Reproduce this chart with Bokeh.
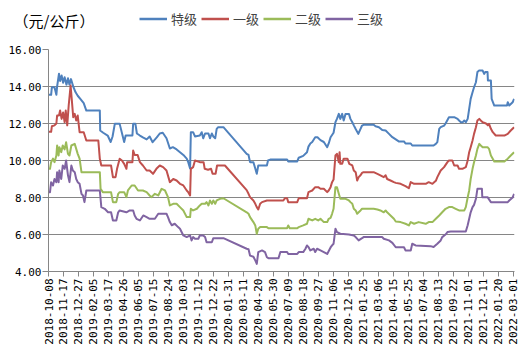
import math
import pandas as pd
from bokeh.plotting import figure
from bokeh.layouts import column
from bokeh.models import (Range1d, FixedTicker, NumeralTickFormatter, DatetimeTickFormatter,
                          Legend, LegendItem, ColumnDataSource, Spacer)
from bokeh.embed import file_html
from bokeh.resources import INLINE

unit_label = "（元/公斤）"
series_names = ["特级", "一级", "二级", "三级"]
series_colors = ["#4F81BD", "#C0504D", "#9BBB59", "#8064A2"]
y_ticks = [4, 6, 8, 10, 12, 14, 16]
x_tick_labels = [
    "2018-10-08", "2018-11-17", "2018-12-27", "2019-02-05", "2019-03-17", "2019-04-26",
    "2019-06-05", "2019-07-15", "2019-08-24", "2019-10-03", "2019-11-12", "2019-12-22",
    "2020-01-31", "2020-03-11", "2020-04-20", "2020-05-30", "2020-07-09", "2020-08-18",
    "2020-09-27", "2020-11-06", "2020-12-16", "2021-01-25", "2021-03-06", "2021-04-15",
    "2021-05-25", "2021-07-04", "2021-08-13", "2021-09-22", "2021-11-01", "2021-12-11",
    "2022-01-20", "2022-03-01",
]

te_ji = [
    ("2018-10-08", 13.55), ("2018-10-15", 13.55), ("2018-10-17", 13.96), ("2018-10-24", 13.96),
    ("2018-10-29", 13.55), ("2018-10-31", 14.0), ("2018-11-05", 14.69), ("2018-11-08", 14.3),
    ("2018-11-12", 14.6), ("2018-11-16", 14.2), ("2018-11-20", 14.5), ("2018-11-25", 14.1),
    ("2018-11-29", 14.45), ("2018-12-03", 14.1), ("2018-12-07", 14.4), ("2018-12-13", 14.0),
    ("2018-12-19", 13.7), ("2018-12-25", 13.5), ("2019-01-02", 13.3), ("2019-01-10", 13.1),
    ("2019-01-17", 12.7), ("2019-02-22", 12.7), ("2019-02-23", 11.62), ("2019-03-03", 11.5),
    ("2019-03-15", 11.35), ("2019-03-23", 11.0), ("2019-03-28", 11.3), ("2019-04-03", 11.98),
    ("2019-04-16", 11.98), ("2019-04-28", 11.0), ("2019-05-02", 11.35), ("2019-05-20", 11.35),
    ("2019-05-22", 11.98), ("2019-05-28", 11.98), ("2019-06-01", 11.46), ("2019-06-09", 11.35),
    ("2019-06-17", 11.25), ("2019-06-27", 11.14), ("2019-07-05", 11.3), ("2019-07-13", 10.99),
    ("2019-07-24", 11.25), ("2019-08-01", 11.46), ("2019-08-09", 11.5), ("2019-08-19", 11.2),
    ("2019-08-28", 10.65), ("2019-09-05", 10.72), ("2019-09-15", 10.6), ("2019-09-24", 10.45),
    ("2019-10-03", 10.3), ("2019-10-12", 10.1), ("2019-10-16", 9.91), ("2019-10-21", 9.57),
    ("2019-10-23", 11.53), ("2019-10-29", 11.53), ("2019-11-03", 11.3), ("2019-11-16", 11.35),
    ("2019-11-21", 11.53), ("2019-11-25", 11.2), ("2019-11-30", 11.46), ("2019-12-09", 11.46),
    ("2019-12-13", 11.2), ("2019-12-18", 11.46), ("2019-12-22", 11.3), ("2019-12-27", 11.2),
    ("2019-12-31", 11.71), ("2020-01-04", 11.8), ("2020-01-18", 11.8), ("2020-01-22", 11.71),
    ("2020-03-20", 10.36), ("2020-03-25", 10.3), ("2020-03-29", 9.91), ("2020-04-07", 9.91),
    ("2020-04-12", 9.57), ("2020-04-16", 9.28), ("2020-04-20", 9.73), ("2020-05-13", 9.73),
    ("2020-05-16", 10.0), ("2020-05-22", 10.05), ("2020-07-06", 10.05), ("2020-07-09", 9.95),
    ("2020-08-02", 9.95), ("2020-08-06", 10.15), ("2020-08-18", 10.25), ("2020-08-28", 10.45),
    ("2020-09-01", 10.75), ("2020-09-06", 10.92), ("2020-09-11", 11.0), ("2020-09-19", 11.26),
    ("2020-09-25", 11.26), ("2020-10-03", 11.1), ("2020-10-12", 11.0), ("2020-10-21", 10.72),
    ("2020-10-25", 10.92), ("2020-10-30", 11.26), ("2020-11-07", 11.5), ("2020-11-12", 12.07),
    ("2020-11-16", 12.25), ("2020-11-21", 12.52), ("2020-11-25", 12.25), ("2020-11-30", 12.52),
    ("2020-12-04", 12.16), ("2020-12-09", 12.52), ("2020-12-18", 12.52), ("2020-12-22", 12.25),
    ("2020-12-27", 12.07), ("2020-12-31", 11.9), ("2021-01-05", 11.7), ("2021-01-12", 11.44),
    ("2021-01-18", 11.71), ("2021-01-22", 11.89), ("2021-01-26", 11.93), ("2021-02-22", 11.93),
    ("2021-02-27", 11.85), ("2021-03-08", 11.8), ("2021-03-17", 11.65), ("2021-03-26", 11.62),
    ("2021-04-04", 11.44), ("2021-04-13", 11.26), ("2021-04-22", 11.14), ("2021-04-30", 11.03),
    ("2021-05-14", 11.03), ("2021-05-18", 10.92), ("2021-06-01", 10.92), ("2021-06-05", 10.81),
    ("2021-08-01", 10.81), ("2021-08-07", 10.9), ("2021-08-11", 10.99), ("2021-08-16", 11.71),
    ("2021-08-20", 11.8), ("2021-08-29", 11.89), ("2021-09-02", 12.0), ("2021-09-11", 12.34),
    ("2021-09-25", 12.34), ("2021-10-04", 12.25), ("2021-10-08", 12.16), ("2021-10-13", 12.07),
    ("2021-10-18", 12.07), ("2021-10-22", 12.16), ("2021-10-26", 12.07), ("2021-10-31", 12.25),
    ("2021-11-04", 12.79), ("2021-11-08", 13.33), ("2021-11-13", 13.69), ("2021-11-17", 13.96),
    ("2021-11-22", 14.23), ("2021-11-26", 14.78), ("2021-11-30", 14.86), ("2021-12-10", 14.86),
    ("2021-12-14", 14.68), ("2021-12-17", 14.78), ("2021-12-23", 14.78), ("2021-12-24", 14.32),
    ("2022-01-01", 14.32), ("2022-01-03", 13.33), ("2022-01-10", 12.97), ("2022-02-13", 12.97),
    ("2022-02-15", 13.15), ("2022-02-19", 12.97), ("2022-02-28", 13.15), ("2022-03-04", 13.33),
]

yi_ji = [
    ("2018-10-08", 11.55), ("2018-10-15", 11.55), ("2018-10-17", 11.85), ("2018-10-24", 11.9),
    ("2018-10-29", 12.0), ("2018-10-31", 12.43), ("2018-11-05", 12.43), ("2018-11-08", 12.7),
    ("2018-11-12", 12.25), ("2018-11-16", 12.6), ("2018-11-20", 12.07), ("2018-11-23", 12.7),
    ("2018-11-27", 11.9), ("2018-12-01", 13.0), ("2018-12-03", 13.42), ("2018-12-06", 14.05),
    ("2018-12-09", 13.33), ("2018-12-13", 12.34), ("2018-12-17", 12.52), ("2018-12-21", 12.16),
    ("2018-12-25", 12.43), ("2018-12-30", 11.53), ("2019-01-10", 11.53), ("2019-01-17", 11.08),
    ("2019-02-18", 11.08), ("2019-02-22", 10.09), ("2019-02-26", 9.73), ("2019-03-24", 9.73),
    ("2019-03-29", 9.1), ("2019-04-05", 9.1), ("2019-04-09", 9.55), ("2019-04-16", 10.09),
    ("2019-04-22", 10.0), ("2019-04-28", 9.82), ("2019-05-04", 9.55), ("2019-05-06", 9.91),
    ("2019-05-20", 9.91), ("2019-05-22", 10.54), ("2019-05-26", 10.3), ("2019-06-03", 10.3),
    ("2019-06-09", 9.91), ("2019-06-17", 9.73), ("2019-06-27", 9.46), ("2019-07-05", 9.46),
    ("2019-07-14", 9.28), ("2019-07-23", 9.55), ("2019-08-01", 9.73), ("2019-08-10", 9.64),
    ("2019-08-19", 9.46), ("2019-08-28", 8.83), ("2019-09-06", 9.0), ("2019-09-15", 8.92),
    ("2019-09-24", 8.74), ("2019-10-03", 8.65), ("2019-10-12", 8.38), ("2019-10-16", 8.29),
    ("2019-10-21", 8.11), ("2019-10-23", 9.55), ("2019-10-29", 9.64), ("2019-11-03", 10.0),
    ("2019-11-16", 9.91), ("2019-11-26", 9.91), ("2019-11-29", 9.55), ("2019-12-08", 9.5),
    ("2019-12-16", 9.55), ("2019-12-20", 9.28), ("2019-12-28", 9.28), ("2020-01-01", 9.73),
    ("2020-01-22", 9.73), ("2020-03-20", 8.4), ("2020-03-25", 8.2), ("2020-03-29", 8.02),
    ("2020-04-07", 7.84), ("2020-04-12", 7.66), ("2020-04-16", 7.48), ("2020-04-20", 7.35),
    ("2020-04-25", 7.66), ("2020-04-30", 7.75), ("2020-05-13", 7.84), ("2020-06-26", 7.84),
    ("2020-06-30", 7.96), ("2020-07-06", 7.96), ("2020-07-09", 7.75), ("2020-08-02", 7.75),
    ("2020-08-06", 7.96), ("2020-08-28", 7.96), ("2020-09-01", 8.29), ("2020-09-11", 8.38),
    ("2020-09-19", 8.56), ("2020-09-27", 8.56), ("2020-10-03", 8.47), ("2020-10-12", 8.47),
    ("2020-10-21", 8.29), ("2020-10-25", 8.38), ("2020-10-30", 8.56), ("2020-11-03", 8.83),
    ("2020-11-07", 8.97), ("2020-11-12", 10.27), ("2020-11-16", 10.36), ("2020-11-21", 9.9),
    ("2020-11-23", 10.45), ("2020-11-25", 9.82), ("2020-11-30", 9.82), ("2020-12-04", 10.1),
    ("2020-12-14", 10.1), ("2020-12-19", 9.82), ("2020-12-27", 9.73), ("2020-12-31", 9.46),
    ("2021-01-05", 9.37), ("2021-01-09", 8.92), ("2021-01-13", 9.1), ("2021-01-18", 9.2),
    ("2021-01-22", 9.33), ("2021-01-26", 9.37), ("2021-02-22", 9.37), ("2021-03-04", 9.28),
    ("2021-03-12", 9.2), ("2021-03-21", 9.1), ("2021-03-26", 9.2), ("2021-03-30", 9.0),
    ("2021-04-08", 8.92), ("2021-04-17", 8.83), ("2021-04-22", 8.79), ("2021-05-05", 8.74),
    ("2021-05-18", 8.61), ("2021-05-27", 8.5), ("2021-06-01", 8.83), ("2021-06-10", 8.74),
    ("2021-07-11", 8.74), ("2021-07-19", 8.83), ("2021-07-29", 8.74), ("2021-08-07", 8.9),
    ("2021-08-11", 9.1), ("2021-08-20", 9.46), ("2021-08-29", 9.64), ("2021-09-07", 9.91),
    ("2021-09-11", 10.0), ("2021-09-20", 10.0), ("2021-09-25", 9.73), ("2021-10-04", 9.73),
    ("2021-10-08", 9.55), ("2021-10-17", 9.55), ("2021-10-26", 9.64), ("2021-10-31", 10.0),
    ("2021-11-04", 10.45), ("2021-11-08", 10.72), ("2021-11-13", 11.08), ("2021-11-17", 11.44),
    ("2021-11-22", 11.8), ("2021-11-26", 12.16), ("2021-12-01", 12.25), ("2021-12-05", 12.16),
    ("2021-12-10", 12.07), ("2021-12-19", 12.0), ("2021-12-24", 11.9), ("2021-12-27", 11.98),
    ("2022-01-01", 11.71), ("2022-01-06", 11.53), ("2022-01-14", 11.35), ("2022-02-06", 11.35),
    ("2022-02-15", 11.44), ("2022-02-23", 11.62), ("2022-03-04", 11.8),
]

er_ji = [
    ("2018-10-08", 9.55), ("2018-10-12", 9.55), ("2018-10-15", 9.91), ("2018-10-20", 10.1),
    ("2018-10-24", 9.91), ("2018-10-29", 10.27), ("2018-10-31", 10.81), ("2018-11-04", 10.27),
    ("2018-11-06", 10.72), ("2018-11-11", 10.45), ("2018-11-15", 10.81), ("2018-11-20", 10.6),
    ("2018-11-24", 10.99), ("2018-11-29", 10.36), ("2018-12-03", 10.27), ("2018-12-08", 10.81),
    ("2018-12-17", 10.9), ("2018-12-21", 10.63), ("2018-12-25", 10.36), ("2018-12-30", 10.1),
    ("2019-01-04", 9.37), ("2019-02-22", 9.37), ("2019-02-24", 8.47), ("2019-03-02", 8.29),
    ("2019-03-24", 8.29), ("2019-03-29", 7.75), ("2019-04-07", 7.75), ("2019-04-12", 8.2),
    ("2019-04-16", 8.29), ("2019-04-28", 8.29), ("2019-05-04", 8.02), ("2019-05-08", 8.38),
    ("2019-05-18", 8.65), ("2019-05-26", 8.65), ("2019-06-04", 8.38), ("2019-06-17", 8.38),
    ("2019-06-27", 8.29), ("2019-07-05", 8.11), ("2019-07-10", 8.02), ("2019-07-19", 8.2),
    ("2019-07-28", 8.11), ("2019-08-06", 8.47), ("2019-08-15", 8.38), ("2019-08-23", 8.02),
    ("2019-08-28", 7.57), ("2019-09-06", 7.66), ("2019-09-15", 7.66), ("2019-09-24", 7.48),
    ("2019-10-03", 7.3), ("2019-10-12", 6.94), ("2019-10-21", 6.94), ("2019-10-23", 7.39),
    ("2019-10-29", 7.3), ("2019-11-08", 7.39), ("2019-11-16", 7.57), ("2019-11-21", 7.66),
    ("2019-11-30", 7.66), ("2019-12-04", 7.75), ("2019-12-09", 7.57), ("2019-12-13", 7.84),
    ("2019-12-18", 7.66), ("2019-12-22", 7.84), ("2019-12-27", 7.66), ("2019-12-31", 7.84),
    ("2020-01-09", 7.93), ("2020-01-18", 7.96), ("2020-03-20", 7.2), ("2020-03-25", 7.12),
    ("2020-03-29", 6.94), ("2020-04-07", 6.67), ("2020-04-12", 6.49), ("2020-04-16", 6.04),
    ("2020-04-20", 6.31), ("2020-04-25", 6.4), ("2020-05-13", 6.4), ("2020-05-17", 6.34),
    ("2020-07-06", 6.34), ("2020-07-09", 6.49), ("2020-07-13", 6.34), ("2020-08-02", 6.34),
    ("2020-08-06", 6.4), ("2020-08-18", 6.49), ("2020-08-28", 6.58), ("2020-09-01", 6.85),
    ("2020-09-11", 6.76), ("2020-09-19", 6.85), ("2020-09-27", 6.76), ("2020-10-03", 6.85),
    ("2020-10-12", 6.67), ("2020-10-21", 6.67), ("2020-10-25", 6.85), ("2020-10-30", 6.9),
    ("2020-11-03", 7.12), ("2020-11-07", 7.39), ("2020-11-12", 8.56), ("2020-11-16", 8.56),
    ("2020-11-21", 8.2), ("2020-11-25", 7.93), ("2020-12-09", 7.93), ("2020-12-18", 7.84),
    ("2020-12-22", 7.75), ("2020-12-27", 7.66), ("2020-12-31", 7.39), ("2021-01-05", 7.3),
    ("2021-01-09", 7.12), ("2021-01-13", 7.2), ("2021-01-18", 7.3), ("2021-01-22", 7.39),
    ("2021-02-22", 7.39), ("2021-03-04", 7.35), ("2021-03-12", 7.3), ("2021-03-21", 7.2),
    ("2021-03-26", 7.3), ("2021-03-30", 7.2), ("2021-04-08", 7.03), ("2021-04-17", 6.85),
    ("2021-04-22", 6.7), ("2021-05-05", 6.67), ("2021-05-18", 6.58), ("2021-05-27", 6.49),
    ("2021-06-01", 6.67), ("2021-06-10", 6.58), ("2021-06-22", 6.67), ("2021-07-11", 6.58),
    ("2021-07-19", 6.67), ("2021-07-29", 6.67), ("2021-08-07", 6.85), ("2021-08-16", 7.03),
    ("2021-08-24", 7.2), ("2021-09-02", 7.39), ("2021-09-11", 7.48), ("2021-09-20", 7.48),
    ("2021-09-29", 7.39), ("2021-10-08", 7.3), ("2021-10-22", 7.3), ("2021-10-26", 7.48),
    ("2021-10-31", 8.0), ("2021-11-04", 8.38), ("2021-11-08", 9.0), ("2021-11-13", 9.55),
    ("2021-11-17", 9.91), ("2021-11-22", 10.27), ("2021-11-26", 10.63), ("2021-12-01", 10.9),
    ("2021-12-05", 10.81), ("2021-12-10", 10.72), ("2021-12-23", 10.72), ("2021-12-27", 10.63),
    ("2022-01-01", 10.27), ("2022-01-10", 9.95), ("2022-02-06", 9.95), ("2022-02-15", 10.1),
    ("2022-02-23", 10.27), ("2022-03-04", 10.45),
]

san_ji = [
    ("2018-10-08", 8.29), ("2018-10-12", 8.29), ("2018-10-15", 8.83), ("2018-10-20", 8.65),
    ("2018-10-24", 9.0), ("2018-10-29", 8.83), ("2018-10-31", 9.37), ("2018-11-04", 8.83),
    ("2018-11-06", 9.46), ("2018-11-11", 9.0), ("2018-11-15", 9.73), ("2018-11-20", 9.55),
    ("2018-11-24", 10.0), ("2018-11-29", 9.2), ("2018-12-03", 8.83), ("2018-12-08", 9.73),
    ("2018-12-12", 9.46), ("2018-12-17", 9.37), ("2018-12-21", 9.0), ("2018-12-25", 8.83),
    ("2018-12-30", 8.74), ("2019-01-04", 8.2), ("2019-01-08", 8.11), ("2019-01-12", 7.75),
    ("2019-01-17", 8.38), ("2019-02-22", 8.38), ("2019-02-26", 7.48), ("2019-03-07", 7.39),
    ("2019-03-16", 7.2), ("2019-03-24", 7.2), ("2019-03-29", 6.76), ("2019-04-07", 6.76),
    ("2019-04-12", 7.2), ("2019-04-16", 7.3), ("2019-05-04", 7.2), ("2019-05-13", 7.3),
    ("2019-05-22", 7.3), ("2019-05-26", 7.03), ("2019-05-31", 6.85), ("2019-06-09", 6.76),
    ("2019-06-18", 7.03), ("2019-06-27", 6.94), ("2019-07-05", 6.85), ("2019-07-19", 6.85),
    ("2019-07-28", 7.12), ("2019-08-19", 7.12), ("2019-08-23", 6.94), ("2019-08-28", 6.67),
    ("2019-09-02", 6.5), ("2019-09-10", 6.58), ("2019-09-19", 6.4), ("2019-09-24", 6.31),
    ("2019-10-03", 5.95), ("2019-10-12", 5.86), ("2019-10-21", 5.95), ("2019-10-25", 5.68),
    ("2019-10-29", 5.86), ("2019-11-03", 5.77), ("2019-11-12", 5.77), ("2019-11-16", 5.95),
    ("2019-11-25", 5.95), ("2019-11-30", 5.86), ("2019-12-04", 5.58), ("2019-12-18", 5.58),
    ("2019-12-22", 5.8), ("2020-01-18", 5.8), ("2020-03-20", 5.23), ("2020-03-25", 5.2),
    ("2020-03-29", 4.86), ("2020-04-07", 4.8), ("2020-04-12", 4.6), ("2020-04-16", 4.41),
    ("2020-04-20", 5.05), ("2020-04-30", 5.14), ("2020-05-08", 5.05), ("2020-05-13", 4.77),
    ("2020-05-17", 4.72), ("2020-06-13", 4.72), ("2020-06-18", 5.05), ("2020-07-06", 5.05),
    ("2020-07-09", 4.95), ("2020-08-02", 4.95), ("2020-08-06", 5.05), ("2020-08-18", 5.05),
    ("2020-08-24", 5.23), ("2020-08-28", 5.41), ("2020-09-01", 5.32), ("2020-09-06", 5.14),
    ("2020-09-15", 5.23), ("2020-09-19", 5.05), ("2020-09-24", 5.23), ("2020-10-03", 5.14),
    ("2020-10-12", 5.05), ("2020-10-21", 4.95), ("2020-10-30", 5.3), ("2020-11-03", 5.41),
    ("2020-11-07", 5.5), ("2020-11-12", 6.31), ("2020-11-16", 6.13), ("2020-11-25", 6.04),
    ("2020-12-18", 6.0), ("2020-12-31", 5.95), ("2021-01-05", 5.86), ("2021-01-13", 5.68),
    ("2021-01-22", 5.8), ("2021-01-26", 5.86), ("2021-03-17", 5.86), ("2021-03-21", 5.77),
    ("2021-04-04", 5.68), ("2021-04-13", 5.55), ("2021-04-22", 5.31), ("2021-05-14", 5.31),
    ("2021-05-18", 5.14), ("2021-06-01", 5.14), ("2021-06-05", 5.5), ("2021-06-14", 5.41),
    ("2021-07-24", 5.37), ("2021-08-01", 5.32), ("2021-08-11", 5.5), ("2021-08-20", 5.68),
    ("2021-08-24", 5.86), ("2021-09-02", 6.0), ("2021-09-07", 6.13), ("2021-09-16", 6.16),
    ("2021-10-26", 6.16), ("2021-10-31", 6.5), ("2021-11-04", 6.85), ("2021-11-08", 7.2),
    ("2021-11-13", 7.48), ("2021-11-17", 7.6), ("2021-11-22", 7.93), ("2021-11-26", 8.47),
    ("2021-12-08", 8.47), ("2021-12-09", 8.02), ("2021-12-23", 8.02), ("2022-01-01", 7.75),
    ("2022-02-15", 7.75), ("2022-02-19", 7.84), ("2022-02-28", 8.0), ("2022-03-04", 8.2),
]

all_series = [te_ji, yi_ji, er_ji, san_ji]

GRID = "#868686"
MONO = "DejaVu Sans Mono"
CJK = "Noto Sans CJK SC"

x_start = pd.Timestamp("2018-10-08")
x_end = pd.Timestamp("2022-03-05")

sources = [ColumnDataSource(dict(x=pd.to_datetime([d for d, _ in data]),
                                 y=[v for _, v in data])) for data in all_series]

# ---------- header strip: unit label (as a bare left axis label) + legend ----------
TOP_GAP = 2
HEAD_H = 36
head = figure(width=530, height=HEAD_H, output_backend="svg", toolbar_location=None,
              x_range=Range1d(0, 1), y_range=Range1d(0, 1),
              x_axis_location=None, y_axis_location="left",
              min_border_left=48, min_border_right=16, min_border_top=0, min_border_bottom=0)
head.outline_line_color = None
head.xgrid.visible = False
head.ygrid.visible = False
hy = head.yaxis[0]
hy.ticker = FixedTicker(ticks=[])
hy.axis_line_color = None
hy.major_tick_line_color = None
hy.minor_tick_line_color = None
hy.major_tick_out = 0
hy.major_tick_in = 0
hy.minor_tick_out = 0
hy.minor_tick_in = 0
hy.major_label_standoff = 0
hy.axis_label = unit_label
hy.axis_label_orientation = "horizontal"
hy.axis_label_standoff = -46
hy.axis_label_text_font = CJK
hy.axis_label_text_font_size = "15px"
hy.axis_label_text_font_style = "normal"
hy.axis_label_text_color = "black"

# legend swatches share the series data (they fall outside this strip's ranges)
swatches = [head.line("x", "y", source=src, line_color=c, line_width=2.5)
            for src, c in zip(sources, series_colors)]

legend = Legend(items=[LegendItem(label=n, renderers=[r]) for n, r in zip(series_names, swatches)],
                orientation="horizontal", location=(91, 10),
                glyph_width=28, glyph_height=15, label_height=15,
                label_standoff=4, spacing=4, padding=0, margin=0,
                border_line_color=None, background_fill_alpha=0,
                label_text_font=CJK, label_text_font_size="13px")
head.add_layout(legend, "center")

# ---------- main chart ----------
MAIN_H = 354 - TOP_GAP - HEAD_H
p = figure(width=530, height=MAIN_H, output_backend="svg", toolbar_location=None,
           x_axis_type="datetime",
           x_range=Range1d(x_start, x_end), y_range=Range1d(4, 16),
           min_border_left=48, min_border_right=16, min_border_top=49 - TOP_GAP - HEAD_H,
           min_border_bottom=83)
p.outline_line_color = None
p.background_fill_color = "white"
p.border_fill_color = "white"

for src, color in zip(sources, series_colors):
    p.line("x", "y", source=src, line_color=color, line_width=2, line_join="round")

x_ticks_ms = [pd.Timestamp(t).value // 10**6 for t in x_tick_labels]
p.xaxis.ticker = FixedTicker(ticks=x_ticks_ms)
fmt = "%Y-%m-%d"
p.xaxis.formatter = DatetimeTickFormatter(
    microseconds=fmt, milliseconds=fmt, seconds=fmt, minsec=fmt, minutes=fmt,
    hourmin=fmt, hours=fmt, days=fmt, months=fmt, years=fmt)
p.xaxis.major_label_orientation = math.pi / 2
p.yaxis.ticker = FixedTicker(ticks=y_ticks)
p.yaxis.formatter = NumeralTickFormatter(format="0.00")

for ax in (p.xaxis[0], p.yaxis[0]):
    ax.axis_line_color = GRID
    ax.major_tick_line_color = GRID
    ax.minor_tick_line_color = None
    ax.major_tick_in = 0
    ax.major_label_text_font = MONO
    ax.major_label_text_font_size = "11px"
    ax.major_label_text_color = "black"
p.xaxis.major_tick_out = 5
p.xaxis.major_label_standoff = 2
p.yaxis.major_tick_out = 6
p.yaxis.major_label_standoff = 1

p.xgrid.grid_line_color = None
p.ygrid.ticker = FixedTicker(ticks=y_ticks)
p.ygrid.grid_line_color = GRID
p.ygrid.grid_line_width = 1

layout = column(Spacer(width=530, height=TOP_GAP), head, p, spacing=0)
open("out.html", "w").write(file_html(layout, INLINE))
